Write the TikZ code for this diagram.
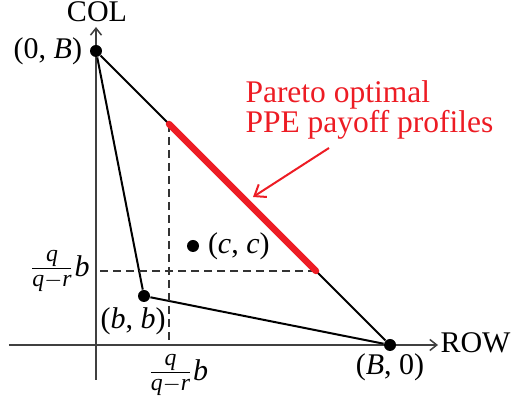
\documentclass[tikz,border=0pt]{standalone}
\usepackage{amsmath}
\usepackage{fontspec}
\setmainfont{Liberation Serif}
\usetikzlibrary{arrows.meta, positioning}
\definecolor{paretored}{RGB}{237,28,36}
\DeclareMathSizes{12}{12}{9.5}{7}

\begin{document}
\begin{tikzpicture}[
    x=0.4pt, y=0.4pt,
    font=\fontsize{12}{12}\selectfont,
    % Axes, edges and guides
    axis/.style={line width=0.6pt, draw=black!75, -{Straight Barb[length=2.8pt, width=4.4pt]}},
    edge/.style={line width=0.8pt, draw=black},
    guide/.style={line width=0.5pt, draw=black!80, dash pattern=on 3.2pt off 2pt},
    frontier/.style={line width=2.6pt, draw=paretored, line cap=round},
    pointer/.style={line width=0.8pt, draw=paretored, -{Straight Barb[length=4pt, width=6pt]}},
    % Points and labels
    dot/.style={circle, fill=black, inner sep=0pt, minimum size=4.8pt},
    lbl/.style={inner sep=0pt}
]
\useasboundingbox (-96,-53) rectangle (416,345);

% ========================================================
% AXES
% ========================================================
\coordinate (origin) at (0,0);
\coordinate (xstart) at (-87,0);
\coordinate (xend) at (342,0);
\coordinate (ystart) at (0,-35);
\coordinate (yend) at (0,318);
\draw[axis] (xstart) -- (xend);
\draw[axis] (ystart) -- (yend);
\node[lbl, anchor=base west] (rowlbl) at (344,-8) {ROW};
\node[lbl, anchor=base] (collbl) at (1,323) {COL};

% ========================================================
% PAYOFF POINTS
% ========================================================
\node[dot] (topdot) at (0,294) {};
\node[dot] (rightdot) at (294,0) {};
\node[dot] (bbdot) at (48,49) {};
\node[dot] (ccdot) at (97,99) {};

\draw[edge] (topdot) -- (rightdot);
\draw[edge] (topdot) -- (bbdot);
\draw[edge] (bbdot) -- (rightdot);

\node[lbl, left=2.8pt of topdot] (toplbl) {(0, \textit{B})};
\node[lbl, below=0.6pt of rightdot] (rightlbl) {(\textit{B}, 0)};
\node[lbl, below=2pt of bbdot, xshift=-4.4pt] (bblbl) {(\textit{b}, \textit{b})};
\node[lbl, right=3.2pt of ccdot] (cclbl) {(\textit{c}, \textit{c})};

% ========================================================
% PARETO FRONTIER
% ========================================================
\coordinate (pstart) at (73,221);
\coordinate (pend) at (220,74);
\coordinate (xtick) at (pstart |- origin);
\coordinate (ytick) at (pend -| origin);
\draw[guide] (pstart) -- (xtick);
\draw[guide] (pend) -- (ytick);
\draw[frontier] (pstart) -- (pend);

\node[lbl, left=2.4pt of ytick] (yticklbl) {$\frac{\textit{q}}{\textit{q}-\textit{r}}\textit{b}$};
\node[lbl, below=3.6pt of xtick, xshift=3.6pt] (xticklbl) {$\frac{\textit{q}}{\textit{q}-\textit{r}}\textit{b}$};

\node[lbl, text=paretored, align=left, anchor=west, font=\fontsize{12.6}{12}\selectfont] (note) at (149,235) {Pareto optimal\\PPE payoff profiles};
\coordinate (notetail) at (233,197);
\coordinate (notetip) at (157,148);
\draw[pointer] (notetail) -- (notetip);

\end{tikzpicture}
\end{document}
